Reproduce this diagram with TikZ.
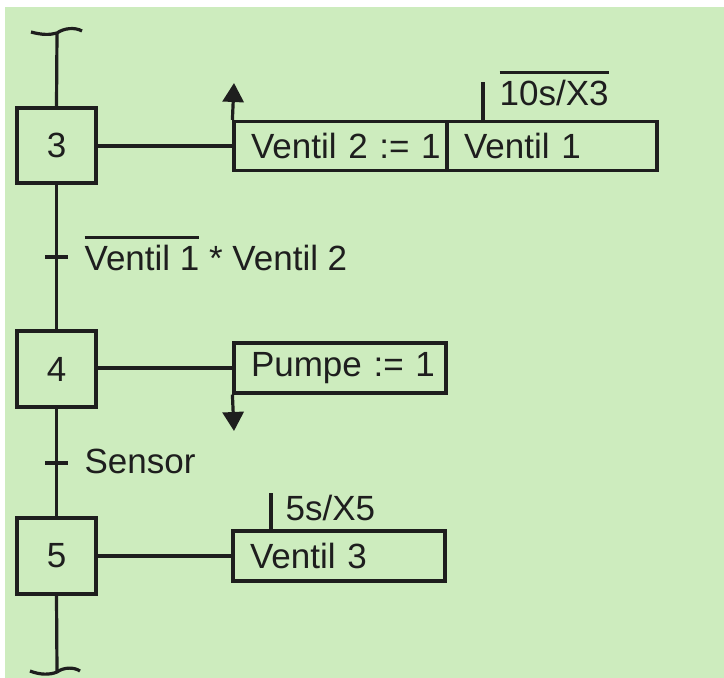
\documentclass[tikz,border=0pt]{standalone}
\usepackage{fontspec}
\setmainfont{Liberation Sans}
\usetikzlibrary{arrows.meta}
\definecolor{bg}{RGB}{205,236,190}
\definecolor{ink}{RGB}{30,30,30}
\newcommand\myov[1]{\vbox{\hrule height 2.4pt\kern 6pt\hbox{#1}}}
\begin{document}
\begin{tikzpicture}[x=1pt,y=-1pt, line width=3.2pt, color=ink,
  font=\fontsize{35}{40}\selectfont,
  stepbox/.style={draw, rectangle, minimum width=79pt, minimum height=75pt, inner sep=0pt},
  actbox/.style={draw, rectangle, minimum height=49pt, inner xsep=17pt, inner ysep=0pt, align=left, text width=#1},
  lbl/.style={inner sep=0pt, anchor=base west},
  tip/.style={-{Triangle[width=21pt,length=19pt]}}]
\useasboundingbox (0,0) rectangle (724,678);
\fill[white] (0,0) rectangle (724,678);
\fill[bg] (5,7) rectangle (724,678);

% steps
\node[stepbox] (s3) at (56.5,145.5) {3};
\node[stepbox, minimum height=76pt] (s4) at (56.5,369) {4};
\node[stepbox, minimum height=76pt] (s5) at (56.5,556) {5};

% actions
\node[actbox=179pt] (a1) at (340.5,146) {\mbox{Ventil 2 := 1}};
\node[actbox=176pt] (a2) at (552,146) {\mbox{Ventil 1}};
\node[actbox=178pt, minimum height=50pt] (a4) at (340,368) {\mbox{Pumpe := 1}};
\node[actbox=178pt, minimum height=50pt] (a5) at (339,556) {\mbox{Ventil 3}};

% open ends
\coordinate (topend) at (57,33);
\coordinate (botend) at (57,672);
\draw (31,32) .. controls (42,35) and (50,35) .. (57,33) .. controls (64,28) and (75,27) .. (82,31);
\draw (30,671) .. controls (40,675) and (50,675) .. (57,672) .. controls (64,667) and (74,667) .. (80,671);

% main line
\draw (topend) -- (s3.north);
\draw (s3.south) -- (s4.north);
\draw (s4.south) -- (s5.north);
\draw (s5.south) -- (botend);

% transitions
\coordinate (t1) at (57,257);
\coordinate (t2) at (57,463);
\draw ([xshift=-12pt]t1) -- ([xshift=11pt]t1);
\draw ([xshift=-12pt]t2) -- ([xshift=11pt]t2);
\node[lbl] (c1) at (83,270) {\myov{Ventil 1} * Ventil 2};
\node[lbl] (c2) at (83,473) {Sensor};

% connectors step -> action
\draw (s3.east |- a1.west) -- (a1.west);
\draw (s4.east |- a4.west) -- (a4.west);
\draw (s5.east |- a5.west) -- (a5.west);

% arrows
\coordinate (up) at (234,83);
\coordinate (down) at (234,431);
\draw[tip] (a1.north west) -- (up);
\draw[tip] (a4.south west) -- (down);

% time conditions
\coordinate (k1) at (483,122);
\coordinate (k1t) at (483,82);
\draw (k1) -- (k1t);
\node[lbl] (d1) at (498,105) {\myov{10s/X3}};
\coordinate (k5) at (271,531);
\coordinate (k5t) at (271,493);
\draw (k5) -- (k5t);
\node[lbl] (d5) at (284,520) {5s/X5};
\end{tikzpicture}
\end{document}
